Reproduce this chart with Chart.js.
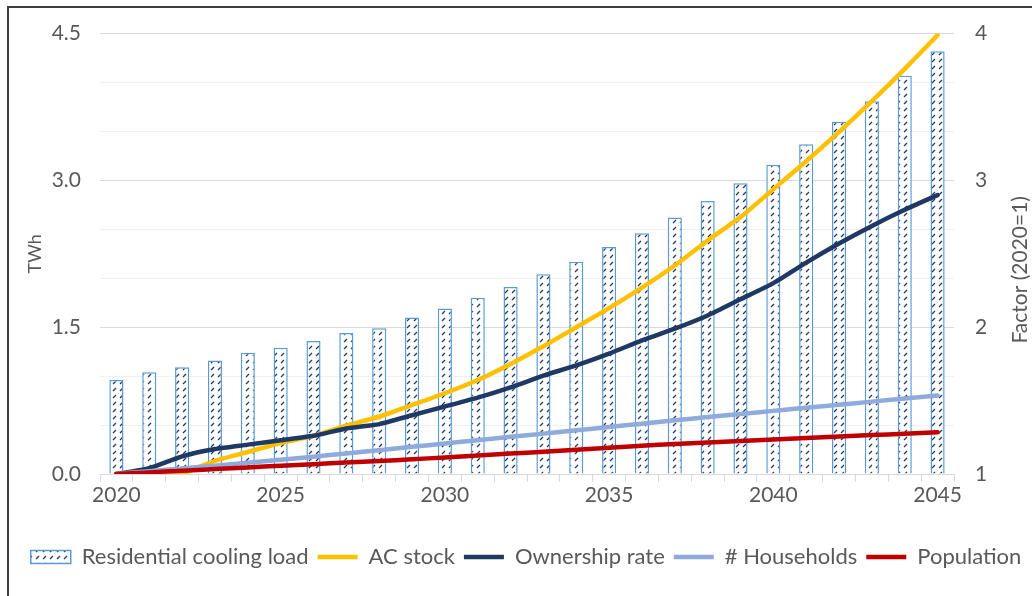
<!DOCTYPE html>
<html>
<head>
<meta charset="utf-8">
<script src="https://cdn.jsdelivr.net/npm/chart.js@4"></script>
<style>
	html, body { margin: 0; padding: 0; background: #fff; overflow: hidden; }
	#wrap { position: relative; width: 1032px; height: 596px; }
	#frame { position: absolute; left: 7px; top: 6px; width: 1100px; height: 700px; border: 2px solid #3f3f3f; box-sizing: border-box; }
	canvas { position: absolute; left: 0; top: 0; }
</style>
</head>
<body>
<div id="wrap">
	<div id="frame"></div>
	<canvas id="chart" width="1032" height="596"></canvas>
</div>
<script>
	const years = [2020, 2021, 2022, 2023, 2024, 2025, 2026, 2027, 2028, 2029, 2030, 2031, 2032,
		2033, 2034, 2035, 2036, 2037, 2038, 2039, 2040, 2041, 2042, 2043, 2044, 2045];
	// TWh, left axis
	const coolingLoad = [0.96, 1.04, 1.09, 1.16, 1.24, 1.29, 1.36, 1.44, 1.49, 1.60, 1.69, 1.80, 1.91,
		2.04, 2.17, 2.32, 2.46, 2.62, 2.79, 2.97, 3.16, 3.37, 3.60, 3.81, 4.07, 4.32];
	// factors relative to 2020, right axis
	const acStock = [1.00, 0.995, 1.005, 1.09, 1.15, 1.21, 1.26, 1.33, 1.39, 1.47, 1.55, 1.64, 1.75,
		1.87, 2.00, 2.13, 2.27, 2.42, 2.59, 2.75, 2.94, 3.13, 3.33, 3.54, 3.76, 3.99];
	const ownershipRate = [1.00, 1.04, 1.12, 1.17, 1.20, 1.23, 1.26, 1.31, 1.34, 1.40, 1.46, 1.52, 1.59,
		1.67, 1.74, 1.82, 1.91, 1.99, 2.08, 2.19, 2.30, 2.44, 2.57, 2.69, 2.80, 2.90];
	const households = [1.000, 1.019, 1.038, 1.057, 1.077, 1.097, 1.118, 1.140, 1.162, 1.185, 1.208,
		1.230, 1.253, 1.275, 1.298, 1.320, 1.343, 1.366, 1.388, 1.409, 1.430, 1.451, 1.472, 1.493,
		1.514, 1.535];
	const population = [1.000, 1.011, 1.022, 1.034, 1.045, 1.056, 1.067, 1.078, 1.089, 1.100, 1.113,
		1.126, 1.139, 1.152, 1.165, 1.178, 1.192, 1.205, 1.215, 1.225, 1.235, 1.245, 1.255, 1.265,
		1.274, 1.284];

	const twhTicks = [0, 1.5, 3.0, 4.5];
	const factorTicks = [1, 2, 3, 4];

	const FONT = "Lato, 'Liberation Sans', sans-serif";
	const TEXT = "#595959";

	// dashed upward diagonal hatch for the bars
	function hatch() {
		const c = document.createElement("canvas");
		c.width = 7;
		c.height = 7;
		const g = c.getContext("2d");
		g.fillStyle = "#fff";
		g.fillRect(0, 0, 7, 7);
		g.strokeStyle = "#1f3864";
		g.lineWidth = 1.2;
		g.beginPath();
		g.moveTo(1, 6);
		g.lineTo(4, 3);
		g.stroke();
		return g.createPattern(c, "repeat");
	}

	function isMajor(v) {
		return twhTicks.some((t) => Math.abs(t - v) < 1e-6);
	}

	// right axis title reads bottom-to-top like the left one
	const rightTitle = {
		id: "rightTitle",
		afterDraw(chart) {
			const ctx = chart.ctx;
			const s = chart.scales.y2;
			ctx.save();
			ctx.translate(1020, (s.top + s.bottom) / 2 + 16);
			ctx.rotate(-Math.PI / 2);
			ctx.font = "21px " + FONT;
			ctx.fillStyle = TEXT;
			ctx.textAlign = "center";
			ctx.textBaseline = "middle";
			ctx.fillText("Factor (2020=1)", 0, 0);
			ctx.restore();
		},
	};

	function lineSet(label, data, color, order) {
		return {
			type: "line",
			label: label,
			data: data,
			yAxisID: "y2",
			borderColor: color,
			backgroundColor: color,
			borderWidth: 4.5,
			borderCapStyle: "round",
			pointRadius: 0,
			pointStyle: "line",
			tension: 0.2,
			order: order,
		};
	}

	new Chart(document.getElementById("chart"), {
		data: {
			labels: years,
			datasets: [
				{
					type: "bar",
					label: "Residential cooling load",
					data: coolingLoad,
					yAxisID: "y",
					backgroundColor: hatch(),
					borderColor: "#5b9bd5",
					borderWidth: 1.5,
					barPercentage: 0.43,
					categoryPercentage: 1,
					pointStyle: "rect",
					order: 5,
				},
				lineSet("AC stock", acStock, "#ffc000", 4),
				lineSet("Ownership rate", ownershipRate, "#203864", 3),
				lineSet("# Households", households, "#8faadc", 2),
				lineSet("Population", population, "#c00000", 1),
			],
		},
		options: {
			responsive: false,
			animation: false,
			devicePixelRatio: 1,
			layout: { padding: { left: 20, right: 0, top: 31, bottom: 18 } },
			plugins: {
				tooltip: { enabled: false },
				legend: {
					position: "bottom",
					labels: {
						usePointStyle: true,
						pointStyleWidth: 40,
						boxHeight: 13,
						padding: 9,
						color: TEXT,
						font: { family: FONT, size: 22 },
						sort: (a, b) => a.datasetIndex - b.datasetIndex,
					},
				},
			},
			scales: {
				x: {
					type: "category",
					offset: true,
					grid: { offset: true, drawOnChartArea: false, tickLength: 8, color: "#d9d9d9" },
					border: { color: "#d9d9d9" },
					ticks: {
						autoSkip: false,
						maxRotation: 0,
						padding: 1,
						color: TEXT,
						font: { family: FONT, size: 21 },
						callback: function (v, i) {
							return years[i] % 5 === 0 ? String(years[i]) : "";
						},
					},
					afterFit: function (s) { s.height = 63; },
				},
				y: {
					position: "left",
					min: 0,
					max: 4.5,
					ticks: {
						stepSize: 0.5,
						padding: 19,
						color: TEXT,
						font: { family: FONT, size: 21 },
						callback: function (v) { return isMajor(v) ? v.toFixed(1) : ""; },
					},
					grid: {
						drawTicks: false,
						color: function (c) { return isMajor(c.tick.value) ? "#d9d9d9" : "#f0f0f0"; },
					},
					border: { display: false },
					title: {
						display: true,
						text: "TWh",
						color: TEXT,
						font: { family: FONT, size: 18 },
						padding: { top: 4, bottom: 0 },
					},
					afterFit: function (s) { s.width = 80; },
				},
				y2: {
					position: "right",
					min: 1,
					max: 4,
					afterBuildTicks: function (s) { s.ticks = factorTicks.map((v) => ({ value: v })); },
					ticks: { padding: 21, color: TEXT, font: { family: FONT, size: 21 } },
					grid: { drawOnChartArea: false, drawTicks: false },
					border: { display: false },
					afterFit: function (s) { s.width = 78; },
				},
			},
		},
		plugins: [rightTitle],
	});
</script>
</body>
</html>
